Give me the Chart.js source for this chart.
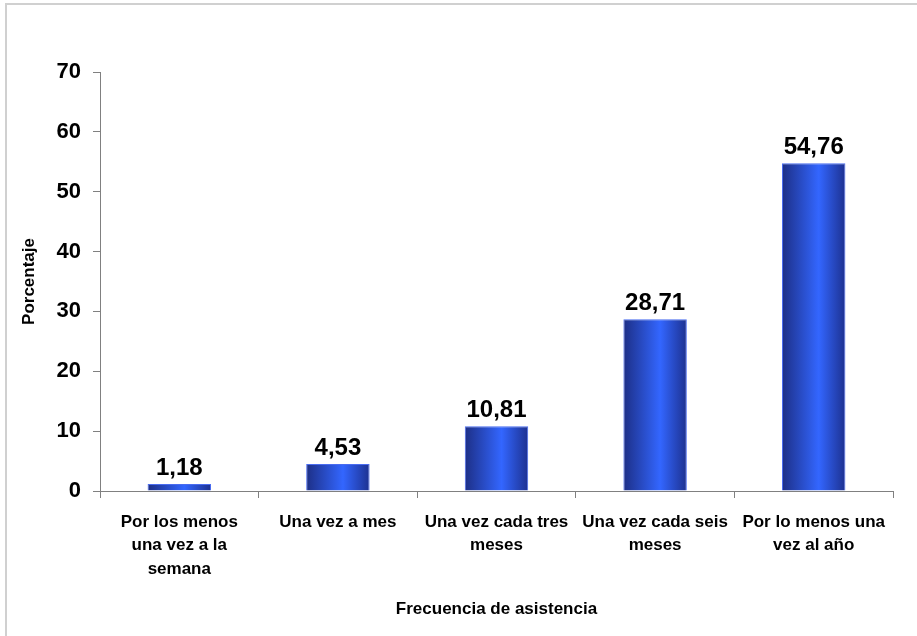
<!DOCTYPE html>
<html>
<head>
<meta charset="utf-8">
<script src="https://cdn.jsdelivr.net/npm/chart.js@4/dist/chart.umd.min.js"></script>
<style>
html,body{margin:0;padding:0;background:#fff;overflow:hidden;}
#wrap{position:relative;width:917px;height:636px;overflow:hidden;}
#frame{position:absolute;left:5px;top:3px;width:940px;height:660px;border-left:2px solid #d0d0d0;border-top:2px solid #d0d0d0;}
canvas{position:absolute;left:0;top:0;}
</style>
</head>
<body>
<div id="wrap"><div id="frame"></div><canvas id="c" width="917" height="636"></canvas></div>
<script>
const categories = [
  ["Por los menos", "una vez a la", "semana"],
  ["Una vez a mes"],
  ["Una vez cada tres", "meses"],
  ["Una vez cada seis", "meses"],
  ["Por lo menos una", "vez al año"]
];
const values = [1.18, 4.53, 10.81, 28.71, 54.76];
const yTicks = [0, 10, 20, 30, 40, 50, 60, 70];
const xTitle = "Frecuencia de asistencia";
const yTitle = "Porcentaje";

const FONT = "'Liberation Sans', Arial, sans-serif";
const BAR_PCT = 0.4;

const labelPlugin = {
  id: 'valueLabels',
  afterDatasetsDraw(chart) {
    const ctx = chart.ctx;
    const meta = chart.getDatasetMeta(0);
    ctx.save();
    ctx.font = "bold 24px " + FONT;
    ctx.fillStyle = "#000";
    ctx.textAlign = "center";
    ctx.textBaseline = "alphabetic";
    meta.data.forEach((bar, i) => {
      ctx.fillText(values[i].toFixed(2).replace('.', ','), bar.x, bar.y - 9);
    });
    ctx.restore();
  }
};

function barGradient(c) {
  const chart = c.chart;
  const xs = chart.scales.x;
  if (!chart.chartArea || !xs) return '#3366ff';
  const cx = xs.getPixelForValue(c.dataIndex);
  const w = (xs.width / categories.length) * BAR_PCT;
  const g = chart.ctx.createLinearGradient(cx - w / 2, 0, cx + w / 2, 0);
  g.addColorStop(0, '#1d2f86');
  g.addColorStop(0.58, '#3366ff');
  g.addColorStop(1, '#1d3190');
  return g;
}

new Chart(document.getElementById('c'), {
  type: 'bar',
  data: {
    labels: categories,
    datasets: [{
      data: values,
      backgroundColor: barGradient,
      borderColor: '#4a6cf0',
      borderWidth: 1,
      barPercentage: BAR_PCT,
      categoryPercentage: 1.0
    }]
  },
  options: {
    responsive: false,
    animation: false,
    devicePixelRatio: 1,
    layout: { padding: { top: 72, right: 24, left: 0, bottom: 0 } },
    plugins: { legend: { display: false }, tooltip: { enabled: false } },
    scales: {
      x: {
        afterFit(s) { s.height = 145; },
        grid: { display: true, drawOnChartArea: false, drawTicks: true, tickLength: 7, color: '#808080', offset: true },
        border: { display: true, color: '#808080', width: 1 },
        ticks: {
          color: '#000', padding: 12, maxRotation: 0, autoSkip: false,
          font: { family: FONT, size: 17, weight: 'bold', lineHeight: 1.4 }
        },
        title: {
          display: true, text: xTitle, color: '#000',
          font: { family: FONT, size: 17, weight: 'bold', lineHeight: 1.2 },
          padding: { top: 0, bottom: 16 }
        }
      },
      y: {
        min: 0, max: 70,
        afterFit(s) { s.width = 100; },
        afterBuildTicks(s) { s.ticks = yTicks.map(v => ({ value: v })); },
        grid: { display: true, drawOnChartArea: false, drawTicks: true, tickLength: 7, color: '#808080' },
        border: { display: true, color: '#808080', width: 1 },
        ticks: {
          color: '#000', padding: 12,
          font: { family: FONT, size: 22, weight: 'bold' }
        },
        title: {
          display: true, text: yTitle, color: '#000',
          font: { family: FONT, size: 17, weight: 'bold', lineHeight: 1.2 },
          padding: { top: 19, bottom: 0 }
        }
      }
    }
  },
  plugins: [labelPlugin]
});
</script>
</body>
</html>
